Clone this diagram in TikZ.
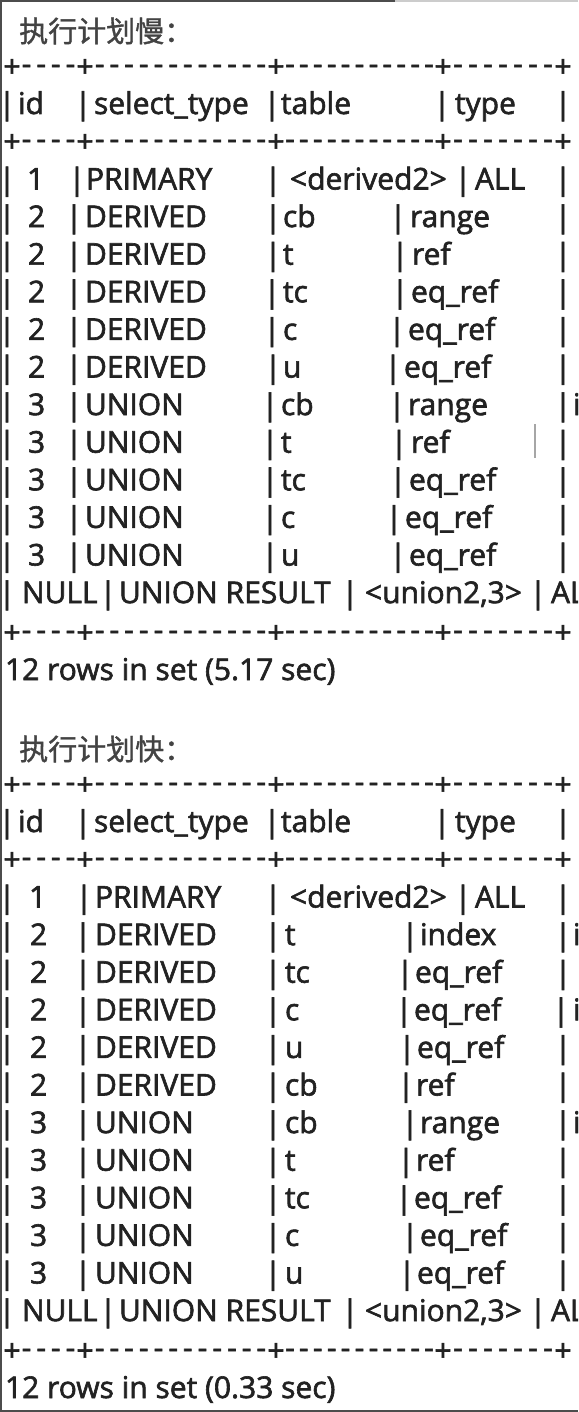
\documentclass[tikz,border=0pt]{standalone}
\usepackage{fontspec}
\setmainfont{Open Sans}[FakeBold=2]
\newfontfamily\cjk{Noto Sans CJK SC}[FakeBold=1.2]
\definecolor{ink}{HTML}{222222}
\tikzset{
  txt/.style={anchor=base west, inner sep=0pt, outer sep=0pt, text=ink, font=\fontsize{30}{36}\selectfont},
  barglyph/.style={anchor=base, inner sep=0pt, outer sep=0pt, text=ink, font=\fontsize{30}{36}\selectfont},
  sepglyph/.style={anchor=base, inner sep=0pt, outer sep=0pt, text=ink, font=\fontsize{30}{36}\selectfont},
  titletxt/.style={anchor=base west, inner sep=0pt, text=ink!85, font=\cjk\fontsize{29}{34}\selectfont},
  border/.style={draw=black!70, line width=2pt}
}
\newcommand\bars[2]{\foreach \bx in {#2} \node[barglyph] at (\bx,#1) {|};}
\newcommand\cells[2]{\foreach \cx/\ct in {#2} \node[txt] at (\cx,#1) {\ct};}
\newcommand\sepline[1]{%
  \foreach \px in {12,85,276,443,563} \node[sepglyph] at (\px,#1+11) {+};
  \foreach \sa/\sb/\sn in {12/85/4,85/276/12,276/443/11,443/563/7}
    {\foreach \sk in {1,...,\sn} \node[sepglyph] at ({\sa+(\sb-\sa)*\sk/(\sn+1)},#1+8) {-};}
}
\begin{document}
\begin{tikzpicture}[x=1pt,y=-1pt]
\useasboundingbox (0,0) rectangle (578,1412);
\fill[white] (0,0) rectangle (578,1412);
\clip (0,0) rectangle (578,1412);

% ---------- slow plan ----------
\node[titletxt] (t1) at (19,42) {执行计划慢：};
\sepline{66}
\bars{114}{7,83,272,442,563}
\cells{114}{18/id,94/select\_type,281/table,455/type}
\sepline{141}
\bars{189.5}{7,77,273,463,563}
\cells{189.5}{27/1,86/PRIMARY,290/<derived2>,475/ALL}
\bars{227.1}{7,74,273,398,563}
\cells{227.1}{28/2,85/DERIVED,283/cb,410/range}
\bars{264.7}{7,74,273,400,563}
\cells{264.7}{28/2,85/DERIVED,283/t,412/ref}
\bars{302.3}{7,74,272,400,563}
\cells{302.3}{28/2,85/DERIVED,283/tc,411/eq\_ref}
\bars{339.9}{7,74,272,397,563}
\cells{339.9}{28/2,85/DERIVED,283/c,408/eq\_ref}
\bars{377.5}{7,74,273,393,563}
\cells{377.5}{28/2,85/DERIVED,283/u,404/eq\_ref}
\bars{415.1}{7,74,270,397,563}
\cells{415.1}{28/3,85/UNION,281/cb,408/range,573/i}
\bars{452.7}{7,74,270,399,563}
\cells{452.7}{28/3,85/UNION,281/t,411/ref}
\draw[black!35, line width=1.5pt] (535,424) -- (535,458);
\bars{490.3}{7,74,270,398,563}
\cells{490.3}{28/3,85/UNION,281/tc,409/eq\_ref}
\bars{527.9}{7,74,270,394,563}
\cells{527.9}{28/3,85/UNION,281/c,405/eq\_ref}
\bars{565.5}{7,74,270,398,563}
\cells{565.5}{28/3,85/UNION,281/u,409/eq\_ref}
\bars{603.1}{7,108,350,538}
\cells{603.1}{22/NULL,119/UNION RESULT,551/ALL}
\node[txt] (u1) at (365,603.1) {<union2,3>};
\sepline{632}
\node[txt] (f1) at (5,680) {12 rows in set (5.17 sec)};

% ---------- fast plan ----------
\node[titletxt] (t2) at (19,760) {执行计划快：};
\sepline{784}
\bars{832}{7,83,272,442,563}
\cells{832}{18/id,94/select\_type,281/table,455/type}
\sepline{859}
\bars{907.5}{7,84,273,463,563}
\cells{907.5}{29/1,95/PRIMARY,290/<derived2>,475/ALL}
\bars{945.1}{7,83,273,410,563}
\cells{945.1}{30/2,95/DERIVED,285/t,420/index,573/i}
\bars{982.7}{7,83,273,405,563}
\cells{982.7}{30/2,95/DERIVED,285/tc,415/eq\_ref}
\bars{1020.3}{7,83,273,404,561}
\cells{1020.3}{30/2,95/DERIVED,285/c,414/eq\_ref,573/i}
\bars{1057.9}{7,83,273,407,563}
\cells{1057.9}{30/2,95/DERIVED,285/u,417/eq\_ref}
\bars{1095.5}{7,83,273,406,563}
\cells{1095.5}{30/2,95/DERIVED,285/cb,416/ref}
\bars{1133.1}{7,83,273,410,563}
\cells{1133.1}{30/3,95/UNION,285/cb,420/range,573/i}
\bars{1170.7}{7,83,273,406,563}
\cells{1170.7}{30/3,95/UNION,285/t,416/ref}
\bars{1208.3}{7,83,273,404,563}
\cells{1208.3}{30/3,95/UNION,285/tc,414/eq\_ref}
\bars{1245.9}{7,83,273,410,563}
\cells{1245.9}{30/3,95/UNION,285/c,420/eq\_ref}
\bars{1283.5}{7,83,273,407,563}
\cells{1283.5}{30/3,95/UNION,285/u,417/eq\_ref}
\bars{1321.1}{7,108,350,538}
\cells{1321.1}{22/NULL,119/UNION RESULT,551/ALL}
\node[txt] (u2) at (365,1321.1) {<union2,3>};
\sepline{1350}
\node[txt] (f2) at (5,1398) {12 rows in set (0.33 sec)};

% ---------- frame ----------
\draw[border] (1,0) -- (1,1412);
\draw[border] (0,1411) -- (578,1411);
\draw[border] (0,1) -- (395,1);
\draw[black!20, line width=2pt] (395,1) -- (578,1);
\end{tikzpicture}
\end{document}
